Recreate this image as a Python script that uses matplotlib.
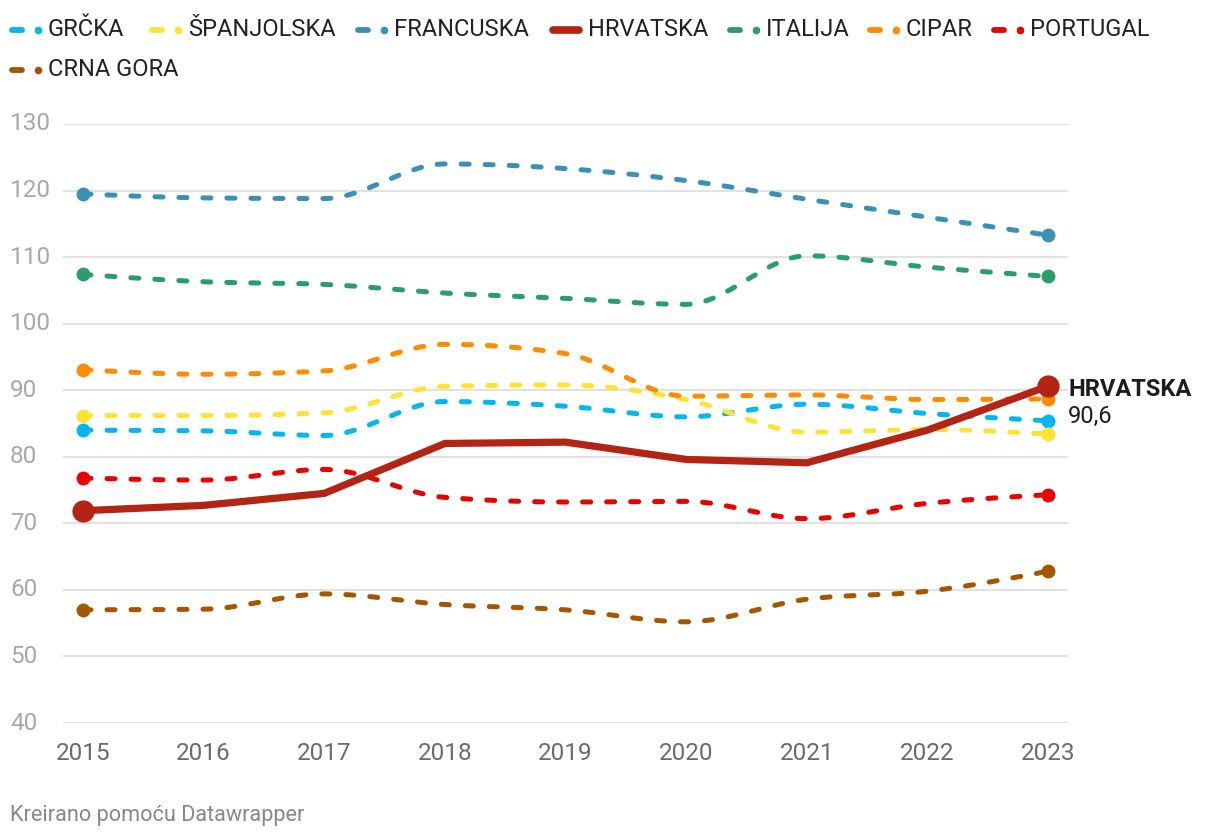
import numpy as np
import matplotlib
matplotlib.use("Agg")
import matplotlib.pyplot as plt
from matplotlib.lines import Line2D
from matplotlib.transforms import blended_transform_factory

plt.rcParams['font.family'] = ['Roboto', 'DejaVu Sans']

years = [2015, 2016, 2017, 2018, 2019, 2020, 2021, 2022, 2023]
grcka      = [84.0, 83.9, 83.2, 88.3, 87.6, 86.0, 87.9, 86.5, 85.4]
spanjolska = [86.2, 86.2, 86.6, 90.6, 90.8, 88.6, 83.7, 84.1, 83.4]
francuska  = [119.5, 118.9, 118.8, 124.0, 123.3, 121.5, 118.7, 116.0, 113.3]
hrvatska   = [71.9, 72.7, 74.5, 82.0, 82.2, 79.6, 79.1, 84.0, 90.6]
italija    = [107.4, 106.3, 105.9, 104.6, 103.8, 102.9, 110.2, 108.5, 107.1]
cipar      = [93.1, 92.4, 92.9, 96.9, 95.5, 89.1, 89.3, 88.6, 88.7]
portugal   = [76.8, 76.5, 78.1, 73.9, 73.2, 73.3, 70.7, 73.0, 74.3]
crna_gora  = [57.0, 57.1, 59.4, 57.8, 57.0, 55.2, 58.6, 59.8, 62.8]

names = ["GRČKA", "ŠPANJOLSKA", "FRANCUSKA", "HRVATSKA", "ITALIJA", "CIPAR", "PORTUGAL", "CRNA GORA"]
series = [grcka, spanjolska, francuska, hrvatska, italija, cipar, portugal, crna_gora]
colors = ["#00b7f1", "#fde334", "#3a91b8", "#b42415", "#2a9d6d", "#ff8b00", "#eb0000", "#a55600"]
y_ticks = [40, 50, 60, 70, 80, 90, 100, 110, 120, 130]
end_label = "HRVATSKA"
end_value = "90,6"


def monotone_x(x, y, n=30):
    x = np.asarray(x, float); y = np.asarray(y, float)
    h = np.diff(x); s = np.diff(y) / h
    m = np.zeros_like(y)
    for i in range(1, len(x) - 1):
        p = (s[i - 1] * h[i] + s[i] * h[i - 1]) / (h[i - 1] + h[i])
        m[i] = (np.sign(s[i - 1]) + np.sign(s[i])) * min(abs(s[i - 1]), abs(s[i]), 0.5 * abs(p))
    m[0] = (3 * s[0] - m[1]) / 2
    m[-1] = (3 * s[-1] - m[-2]) / 2
    xs, ys = [], []
    for i in range(len(x) - 1):
        t = np.linspace(0, 1, n, endpoint=(i == len(x) - 2))
        h00 = 2 * t**3 - 3 * t**2 + 1
        h10 = t**3 - 2 * t**2 + t
        h01 = -2 * t**3 + 3 * t**2
        h11 = t**3 - t**2
        xs.append(x[i] + t * h[i])
        ys.append(h00 * y[i] + h10 * h[i] * m[i] + h01 * y[i + 1] + h11 * h[i] * m[i + 1])
    return np.concatenate(xs), np.concatenate(ys)


W, H = 1220, 840
fig = plt.figure(figsize=(W / 100, H / 100), dpi=100)
ax = fig.add_axes([63 / W, 1 - 723 / H, (1068 - 63) / W, (723 - 124) / H])
step = (1048 - 83) / 8
pad = 20 / step
ax.set_xlim(years[0] - pad, years[-1] + pad)
ax.set_ylim(40, 130)
for s in ax.spines.values():
    s.set_visible(False)
ax.set_xticks([]); ax.set_yticks([])
for v in y_ticks:
    ax.axhline(v, color="#e2e2e2", lw=1.5, zorder=0)

trans = blended_transform_factory(fig.transFigure, ax.transData)
for v in y_ticks:
    ax.text(10 / W, v, str(v), transform=trans, ha="left", va="center",
            fontsize=17.5, color="#a8a8a8")
transx = blended_transform_factory(ax.transData, fig.transFigure)
for yr in years:
    ax.text(yr, 1 - 753 / H, str(yr), transform=transx, ha="center", va="center",
            fontsize=17.5, color="#6b6b6b")

for name, vals, c in zip(names, series, colors):
    if name == "HRVATSKA":
        continue
    xs, ys = monotone_x(years, vals)
    ax.plot(xs, ys, color=c, lw=3.6, linestyle=(0, (1.6, 3.2)),
            dash_capstyle="round", solid_capstyle="round", zorder=3, clip_on=False)
    ax.plot([years[0], years[-1]], [vals[0], vals[-1]], "o", color=c, ms=10,
            mec="none", zorder=4, clip_on=False)

ax.plot(years, hrvatska, color="#b42415", lw=5.2, solid_joinstyle="miter",
        solid_capstyle="round", zorder=5, clip_on=False)
ax.plot([years[0], years[-1]], [hrvatska[0], hrvatska[-1]], "o", color="#b42415",
        ms=16, mec="none", zorder=6, clip_on=False)

ax.text(1068 / W, hrvatska[-1] - 0.5, end_label, transform=trans, ha="left", va="center",
        fontsize=17, fontweight="bold", color="#1d1d1d")
ax.text(1068 / W, hrvatska[-1] - 4.5, end_value, transform=trans, ha="left", va="center",
        fontsize=17, color="#1d1d1d")

# legend
leg_items = [
    (10, 30), (150, 30), (356, 30), (550, 30), (728, 30), (868, 30), (992, 30), (10, 70)
]
for (x0, yc), name, c in zip(leg_items, names, colors):
    yf = 1 - yc / H
    if name == "HRVATSKA":
        fig.add_artist(Line2D([(x0 + 3) / W, (x0 + 29) / W], [yf, yf], color=c, lw=5.5,
                              solid_capstyle="round", transform=fig.transFigure))
        tx = x0 + 38
    else:
        fig.add_artist(Line2D([(x0 + 2) / W, (x0 + 12) / W], [yf, yf], color=c, lw=4.2,
                              solid_capstyle="round", transform=fig.transFigure))
        fig.add_artist(Line2D([(x0 + 28) / W], [yf], marker="o", ms=5.5, color=c, mec="none",
                              transform=fig.transFigure))
        tx = x0 + 38
    fig.text(tx / W, yf, name, ha="left", va="center", fontsize=17, color="#222222")

fig.text(10 / W, 1 - 816 / H, "Kreirano pomoću Datawrapper", ha="left", va="center",
         fontsize=15.6, color="#888888")

fig.savefig("out.png", dpi=100)
